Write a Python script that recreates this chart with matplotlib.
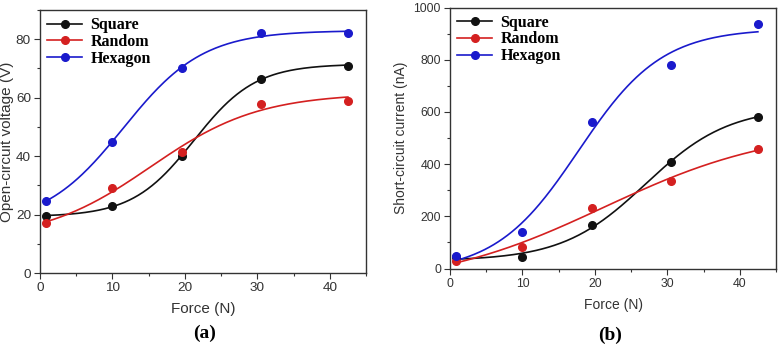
import numpy as np
import matplotlib
matplotlib.use("Agg")
import matplotlib.pyplot as plt
from matplotlib.ticker import MultipleLocator

force = [0.8, 9.9, 19.6, 30.5, 42.5]
series_names = ["Square", "Random", "Hexagon"]
colors = ["#111111", "#d42020", "#1a1acc"]
voc_square = [19.5, 23.0, 40.0, 66.5, 71.0]
voc_random = [17.0, 29.0, 41.5, 58.0, 59.0]
voc_hexagon = [24.5, 45.0, 70.0, 82.0, 82.0]
isc_square = [45, 43, 165, 408, 582]
isc_random = [28, 82, 232, 336, 457]
isc_hexagon = [47, 140, 563, 780, 935]

W, H = 778, 345
fig = plt.figure(figsize=(W / 100, H / 100), dpi=100)
plt.rcParams['font.family'] = ['Liberation Sans', 'DejaVu Sans']


def boltzmann_fit(x, y):
    """Least-squares Boltzmann sigmoid fit (A1, A2 linear; x0, dx by grid)."""
    x = np.asarray(x, float)
    y = np.asarray(y, float)
    best = None
    for x0 in np.linspace(0, 70, 281):
        for dx in np.linspace(2, 30, 113):
            s = 1.0 / (1.0 + np.exp((x - x0) / dx))
            M = np.column_stack([s, 1 - s])
            coef, *_ = np.linalg.lstsq(M, y, rcond=None)
            err = np.sum((M @ coef - y) ** 2)
            if best is None or err < best[0]:
                best = (err, x0, dx, coef)
    _, x0, dx, (a1, a2) = best
    return lambda t: a2 + (a1 - a2) / (1.0 + np.exp((t - x0) / dx))


def draw(ax, data, ylim, ymaj, ymin, ylabel, tsize, lsize, lpad):
    xs = np.linspace(force[0], force[-1], 200)
    for name, vals, c in zip(series_names, data, colors):
        f = boltzmann_fit(force, vals)
        ax.plot(xs, f(xs), color=c, lw=1.2, zorder=2)
        ax.plot(force, vals, 'o', color=c, ms=5.5, mec=c, zorder=3)
        ax.plot([], [], '-o', color=c, ms=5.5, lw=1.2, label=name)
    ax.set_xlim(0, 45)
    ax.set_ylim(*ylim)
    ax.xaxis.set_major_locator(MultipleLocator(10))
    ax.xaxis.set_minor_locator(MultipleLocator(5))
    ax.yaxis.set_major_locator(MultipleLocator(ymaj))
    ax.yaxis.set_minor_locator(MultipleLocator(ymin))
    ax.tick_params(which='major', direction='out', length=4, width=0.8,
                   labelsize=tsize, colors='#333333', labelcolor='#333333', pad=2.5)
    ax.tick_params(which='minor', direction='out', length=2.5, width=0.8, colors='#333333')
    for s in ax.spines.values():
        s.set_color('#333333')
        s.set_linewidth(1.0)
    ax.set_xlabel("Force (N)", fontsize=lsize, color='#333333', labelpad=6)
    ax.set_ylabel(ylabel, fontsize=lsize, color='#333333', labelpad=lpad)
    ax.legend(loc='upper left', frameon=False,
              prop={'family': 'Liberation Serif', 'weight': 'bold', 'size': 11.5},
              handlelength=2.2, handletextpad=0.5, labelspacing=0.05,
              borderaxespad=0.1, borderpad=0.35)


ax1 = fig.add_axes([40 / W, 1 - 273 / H, 326 / W, 263 / H])
ax2 = fig.add_axes([450 / W, 1 - 268.5 / H, 326 / W, 261 / H])

draw(ax1, [voc_square, voc_random, voc_hexagon], (0, 90), 20, 10,
     "Open-circuit voltage (V)", 9.7, 11, 1)
draw(ax2, [isc_square, isc_random, isc_hexagon], (0, 1000), 200, 100,
     "Short-circuit current (nA)", 8.8, 10, 4)

fig.text(205 / W, 1 - 333 / H, "(a)", ha='center', va='center',
         family='Liberation Serif', weight='bold', fontsize=14)
fig.text(610 / W, 1 - 335 / H, "(b)", ha='center', va='center',
         family='Liberation Serif', weight='bold', fontsize=14)

fig.savefig("out.png", dpi=100)
